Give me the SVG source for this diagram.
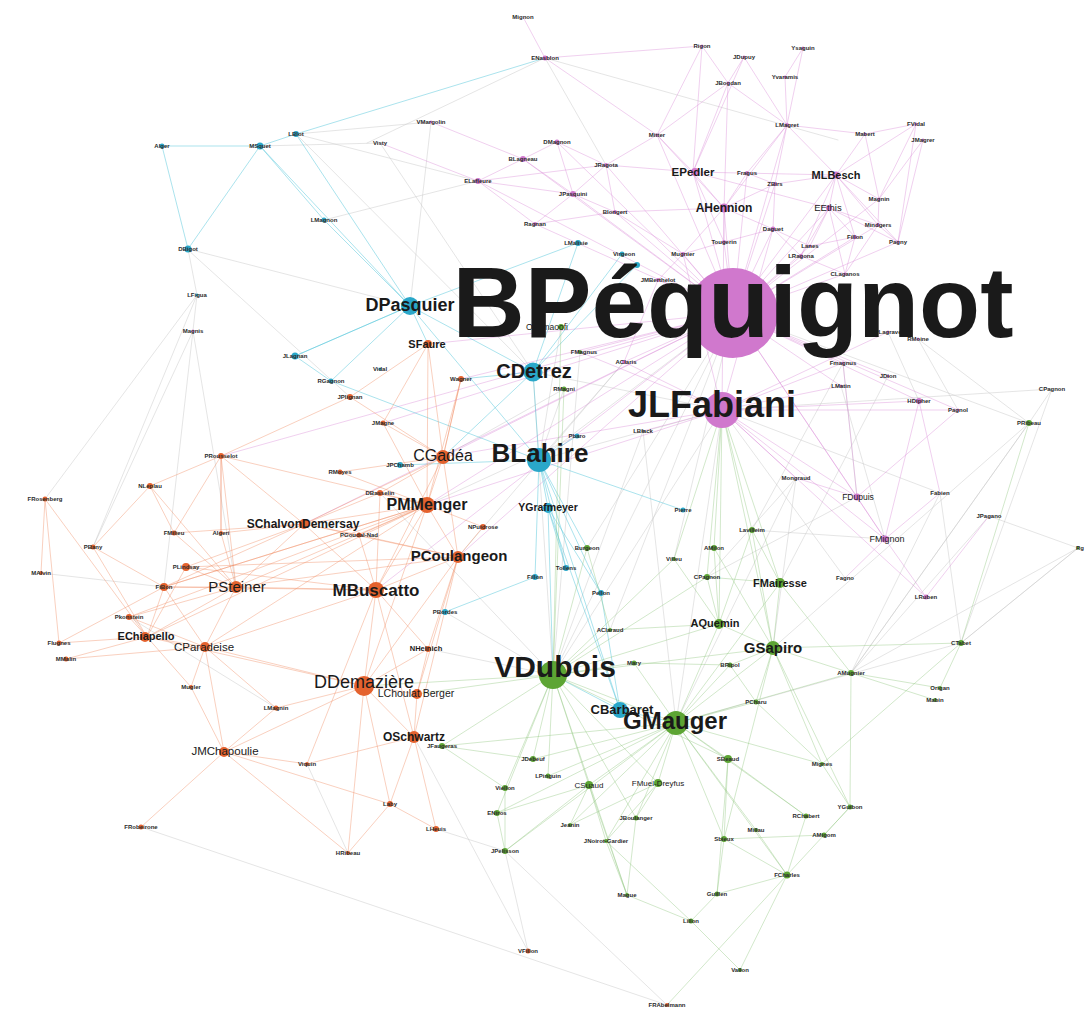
<svg xmlns="http://www.w3.org/2000/svg" width="1086" height="1009" viewBox="0 0 1086 1009">
<style>
text{font-family:"Liberation Sans",Arial,sans-serif;text-anchor:middle;fill:#1a1a1a}
.t{font-size:6px;font-weight:bold;fill:#2b2b2b}
.b{font-weight:bold}
.p{fill:#d078cd}.c{fill:#2aa7c9}.o{fill:#e4622e}.g{fill:#5da534}.n{fill:#8a8a8a}
.e{fill:none;stroke-width:0.8;stroke-linecap:round}
.ep{stroke:#d98ad6;stroke-opacity:.5}
.ec{stroke:#4fc3d9;stroke-opacity:.6}
.eo{stroke:#f08a5e;stroke-opacity:.5}
.eg{stroke:#8ec57c;stroke-opacity:.5}
.en{stroke:#c9c9c9;stroke-opacity:.6}
</style>
<rect width="1086" height="1009" fill="#fff"/>
<g id="connectors">
<path class="e en" d="M193 331L93 547M193 331L236 587M197 295L45 499M197 295L164 587M188 249L197 295M380 143L533 372M431 122L410 306M296 134L533 372M733 313L587 548M733 313L539 460M722 410L553 675M722 410L676 723M722 410L1052 389M1078 548L961 643M1078 548L851 673M1029 423L1052 389M940 493L961 643M989 516L851 673M796 478L773 648M428 649L553 675M918 339L1029 423M733 313L553 675M545 58L838 140M367 143L545 58M545 58L606 165M187 249L350 397M533 372L722 410M539 460L722 410M989 516L1078 548M1029 423L773 648M796 478L707 577M940 493L851 673M843 363L752 530M888 376L780 583M624 362L539 460M643 431L553 675M141 827L667 1005M528 951L414 737M528 951L505 851M445 612L553 675M380 493L553 675
M296 134L431 122M260 146L380 143M324 220L478 181M188 249L410 306M296 134L478 181M722 410L845 578M722 410L940 493M733 313L1029 423M1029 423L851 673M918 339L958 410M888 332L919 401M1052 389L961 643M843 363L857 497M841 386L885 539M961 643L1078 548M851 673L1029 423M676 723L961 643M796 478L676 723M752 530L885 539M707 577L857 497M533 372L553 675M564 389L539 460M561 327L539 460M580 352L553 675M643 431L676 723M733 313L674 559M733 313L610 630M197 295L93 547M41 573L164 587M129 617L276 708M307 764L348 853M505 851L667 1005M436 829L505 851M564 389L443 457M624 362L458 557M577 436L427 505"/>
<path class="e ep" d="M733 313L724 208M733 313L693 172M733 313L747 173M733 313L775 184M733 313L657 135M733 313L606 165M733 313L573 194M733 313L615 212M733 313L773 229M733 313L878 225M733 313L855 237M733 313L724 242M733 313L810 246M733 313L801 256M733 313L683 254M733 313L658 280M733 313L845 274M733 313L829 208M733 313L836 175M733 313L879 199M733 313L898 242M733 313L787 125M733 313L523 159M733 313L478 181M733 313L535 224M733 313L843 363M733 313L888 376M733 313L841 386M733 313L919 401M733 313L958 410M733 313L857 497M733 313L885 539M733 313L624 362M733 313L557 142M733 313L580 352M733 313L461 379M733 313L428 344M733 313L443 457M733 313L427 505M733 313L304 524M733 313L458 557M733 313L376 590M733 313L383 423M733 313L221 456
M722 410L857 497M722 410L885 539M722 410L843 363M722 410L841 386M722 410L919 401M722 410L958 410M722 410L926 597M722 410L796 478M722 410L724 208M722 410L773 229M722 410L683 254M722 410L643 431M722 410L888 332M722 410L443 457M722 410L427 505M722 410L580 352M722 410L624 362
M724 208L693 172M724 208L747 173M724 208L775 184M724 208L657 135M724 208L615 212M724 208L773 229M724 208L724 242M724 208L683 254M724 208L787 125M724 208L728 83
M693 172L657 135M693 172L606 165M693 172L728 83M693 172L702 46M693 172L744 57M693 172L829 208M693 172L836 175
M836 175L829 208M836 175L879 199M836 175L878 225M836 175L855 237M836 175L898 242M836 175L865 134M836 175L916 124M836 175L775 184M836 175L787 125
M829 208L878 225M829 208L855 237M829 208L898 242M829 208L810 246M829 208L801 256M829 208L845 274
M573 194L478 181M573 194L523 159M573 194L557 142M573 194L606 165M573 194L615 212M573 194L535 224
M380 143L478 181M478 181L535 224M478 181L523 159M431 122L523 159
M545 58L523 17M545 58L657 135M545 58L702 46M702 46L728 83M744 57L728 83M803 48L785 77M785 77L787 125M728 83L787 125M865 134L916 124M923 140L898 242M916 124L879 199M923 140L879 199M803 48L787 125
M857 497L885 539M885 539L926 597M857 497L796 478M885 539L845 578M857 497L958 410M885 539L919 401M857 497L843 363M926 597L989 516M919 401L940 493M885 539L940 493
M724 242L773 229M773 229L801 256M810 246L855 237M878 225L898 242M879 199L878 225M775 184L773 229M747 173L775 184M657 135L606 165M606 165L615 212M615 212L683 254M683 254L658 280M658 280L624 362M787 125L865 134M865 134L879 199M787 125L775 184M744 57L787 125M702 46L657 135M728 83L657 135M845 274L878 225M801 256L845 274M724 242L683 254M615 212L535 224M557 142L606 165M523 159L557 142M478 181L606 165M747 173L787 125M898 242L916 124M855 237L845 274M773 229L810 246M693 172L724 242M836 175L801 256"/>
<path class="e ec" d="M162 146L260 146M162 146L188 249M260 146L296 134M296 134L410 306M260 146L410 306M410 306L533 372M410 306L539 460M539 460L548 508M548 508L553 675M539 460L620 710M533 372L578 243M533 372L637 265M533 372L622 254M539 460L577 436M539 460L566 568M539 460L535 577M535 577L445 612M548 508L566 568M548 508L601 593M601 593L620 710M620 710L676 723M620 710L553 675M410 306L295 356M295 356L331 381M331 381L539 460M410 306L324 220M324 220L260 146M539 460L400 465M539 460L683 510M410 306L428 344M533 372L461 379M296 134L545 58M539 460L587 548M533 372L443 457M410 306L578 243M539 460L601 593M548 508L620 710M295 356L410 306M331 381L410 306"/>
<path class="e ec" stroke-width="1.6" d="M260 146L188 249M533 372L539 460"/>
<path class="e eo" d="M376 590L427 505M376 590L458 557M376 590L304 524M376 590L236 587M376 590L364 686M376 590L359 535M376 590L380 493M376 590L428 649M376 590L414 737M376 590L443 457M376 590L186 567M376 590L164 587M376 590L205 647M376 590L307 764
M427 505L443 457M427 505L458 557M427 505L304 524M427 505L236 587M427 505L380 493M427 505L359 535M427 505L483 527M427 505L383 423M427 505L428 344M427 505L364 686M427 505L205 647M427 505L147 637M427 505L221 456M427 505L164 587
M364 686L417 694M364 686L414 737M364 686L205 647M364 686L147 637M364 686L276 708M364 686L428 649M364 686L390 804M364 686L348 853M364 686L224 752M364 686L458 557
M236 587L186 567M236 587L164 587M236 587L174 533M236 587L221 533M236 587L304 524M236 587L147 637M236 587L205 647M236 587L221 456M236 587L150 486M236 587L458 557
M205 647L147 637M205 647L129 617M205 647L191 687M205 647L224 752M205 647L276 708M205 647L164 587
M147 637L129 617M147 637L59 643M147 637L66 659M147 637L164 587M147 637L93 547
M224 752L141 827M224 752L191 687M224 752L307 764M224 752L390 804
M304 524L221 456M304 524L174 533M304 524L221 533M304 524L359 535M304 524L443 457M304 524L458 557M304 524L164 587
M221 456L150 486M221 456L221 533M221 456L350 397M150 486L93 547M150 486L174 533M45 499L41 573M45 499L59 643M45 499L147 637
M428 344L443 457M428 344L383 423M428 344L350 397M443 457L458 557M443 457L461 379M443 457L340 472M443 457L380 493
M414 737L390 804M414 737L436 829M414 737L417 694M390 804L348 853M390 804L436 829M428 649L417 694M186 567L458 557M164 587L427 505
M186 567L304 524M174 533L221 456M221 533L221 456M380 493L304 524M350 397L443 457M461 379L427 505M461 379L443 457M359 535L458 557M428 649L458 557M483 527L458 557M276 708L224 752M307 764L414 737M129 617L236 587M66 659L205 647M59 643L164 587M93 547L164 587M186 567L147 637M340 472L427 505M383 423L443 457M191 687L147 637M129 617L427 505M224 752L348 853M417 694L458 557M414 737L458 557"/>
<path class="e eg" d="M553 675L676 723M553 675L773 648M553 675L719 624M553 675L610 630M553 675L634 663M553 675L587 548M553 675L589 785M553 675L658 783M553 675L533 759M553 675L548 776M553 675L505 788M553 675L442 746M553 675L728 759M553 675L674 559M553 675L707 577M553 675L636 818M553 675L497 813M553 675L561 327M553 675L564 389M553 675L364 686M553 675L417 694
M676 723L773 648M676 723L719 624M676 723L728 759M676 723L658 783M676 723L589 785M676 723L756 702M676 723L730 665M676 723L806 816M676 723L724 839M676 723L756 830M676 723L636 818M676 723L606 841M676 723L787 875M676 723L851 673M676 723L634 663M676 723L780 583M676 723L822 764
M773 648L780 583M773 648L719 624M773 648L730 665M773 648L756 702M773 648L851 673M773 648L961 643M773 648L752 530M773 648L714 548M773 648L822 764M773 648L724 839
M722 410L752 530M722 410L714 548M722 410L780 583M722 410L773 648M722 410L674 559M722 410L707 577M722 410L719 624
M961 643L1029 423M961 643L940 688M961 643L822 764M851 673L940 688M851 673L935 700M851 673L850 807
M787 875L806 816M787 875L850 807M787 875L717 894M787 875L667 1005M787 875L724 839M717 894L691 921M691 921L740 970M627 895L606 841M627 895L691 921M724 839L717 894M740 970L787 875
M505 851L497 813M505 851L505 788M505 851L589 785M589 785L570 825M589 785L606 841M589 785L497 813M658 783L636 818M658 783L606 841M658 783L570 825M442 746L533 759M442 746L505 788
M676 723L442 746M676 723L570 825M676 723L497 813M676 723L505 851M553 675L627 895M676 723L533 759M676 723L548 776M719 624L752 530M719 624L714 548M780 583L752 530M719 624L707 577M610 630L719 624M634 663L730 665M756 702L822 764M728 759L806 816M728 759L724 839M822 764L850 807M756 830L787 875M724 839L824 835M824 835L850 807M636 818L627 895M606 841L691 921M589 785L627 895M728 759L717 894M780 583L851 673M773 648L850 807M730 665L756 702M587 548L610 630M674 559L719 624M707 577L780 583"/>
</g>
<g id="n-mignon"><text class="t" x="523" y="19">Mignon</text></g>
<g id="n-blon"><circle class="p" cx="545" cy="58" r="2.5"/><text class="t" x="545" y="60">ENasblon</text></g>
<g id="n-rigon"><circle class="p" cx="702" cy="46" r="1.5"/><text class="t" x="702" y="48">Rigon</text></g>
<g id="n-jdupuy"><circle class="p" cx="744" cy="57" r="1.5"/><text class="t" x="744" y="59">JDupuy</text></g>
<g id="n-ysaguin"><circle class="p" cx="803" cy="48" r="1.5"/><text class="t" x="803" y="50">Ysaguin</text></g>
<g id="n-jbogdan"><circle class="p" cx="728" cy="83" r="1.5"/><text class="t" x="728" y="85">JBogdan</text></g>
<g id="n-yvaramis"><circle class="p" cx="785" cy="77" r="1.5"/><text class="t" x="785" y="79">Yvaramis</text></g>
<g id="n-lmagret"><circle class="p" cx="787" cy="125" r="2"/><text class="t" x="787" y="127">LMagret</text></g>
<g id="n-mabert"><circle class="p" cx="865" cy="134" r="1.5"/><text class="t" x="865" y="136">Mabert</text></g>
<g id="n-fvidal"><circle class="p" cx="916" cy="124" r="1.5"/><text class="t" x="916" y="126">FVidal</text></g>
<g id="n-jmagrer"><circle class="p" cx="923" cy="140" r="1.5"/><text class="t" x="923" y="142">JMagrer</text></g>
<g id="n-dmagnon"><circle class="p" cx="557" cy="142" r="2.5"/><text class="t" x="557" y="144">DMagnon</text></g>
<g id="n-mitter"><circle class="p" cx="657" cy="135" r="1.5"/><text class="t" x="657" y="137">Mitter</text></g>
<g id="n-jragota"><circle class="p" cx="606" cy="165" r="2"/><text class="t" x="606" y="167">JRagota</text></g>
<g id="n-fragus"><circle class="p" cx="747" cy="173" r="2"/><text class="t" x="747" y="175">Fragus</text></g>
<g id="n-zbirs"><circle class="p" cx="775" cy="184" r="2"/><text class="t" x="775" y="186">ZBirs</text></g>
<g id="n-jpasquini"><circle class="p" cx="573" cy="194" r="3"/><text class="t" x="573" y="196">JPasquini</text></g>
<g id="n-blongert"><circle class="p" cx="615" cy="212" r="2"/><text class="t" x="615" y="214">Blongert</text></g>
<g id="n-magnin"><circle class="p" cx="879" cy="199" r="1.5"/><text class="t" x="879" y="201">Magnin</text></g>
<g id="n-daguet"><circle class="p" cx="773" cy="229" r="2.5"/><text class="t" x="773" y="231">Daguet</text></g>
<g id="n-mindgers"><circle class="p" cx="878" cy="225" r="2"/><text class="t" x="878" y="227">Mindgers</text></g>
<g id="n-fillon"><circle class="p" cx="855" cy="237" r="2"/><text class="t" x="855" y="239">Fillon</text></g>
<g id="n-pagny"><circle class="p" cx="898" cy="242" r="1.5"/><text class="t" x="898" y="244">Pagny</text></g>
<g id="n-tougerin"><circle class="p" cx="724" cy="242" r="2"/><text class="t" x="724" y="244">Tougerin</text></g>
<g id="n-lanes"><circle class="p" cx="810" cy="246" r="1.5"/><text class="t" x="810" y="248">Lanes</text></g>
<g id="n-lragona"><circle class="p" cx="801" cy="256" r="2"/><text class="t" x="801" y="258">LRagona</text></g>
<g id="n-mugnier"><circle class="p" cx="683" cy="254" r="2"/><text class="t" x="683" y="256">Mugnier</text></g>
<g id="n-jmberthelot"><circle class="p" cx="658" cy="280" r="2"/><text class="t" x="658" y="282">JMBerthelot</text></g>
<g id="n-claganos"><circle class="p" cx="845" cy="274" r="1.5"/><text class="t" x="845" y="276">CLaganos</text></g>
<g id="n-blagneau"><circle class="p" cx="523" cy="159" r="3"/><text class="t" x="523" y="161">BLagneau</text></g>
<g id="n-elafleure"><circle class="p" cx="478" cy="181" r="3"/><text class="t" x="478" y="183">ELafleure</text></g>
<g id="n-visty"><text class="t" x="380" y="145">Visty</text></g>
<g id="n-vmargolin"><circle class="p" cx="431" cy="122" r="1.5"/><text class="t" x="431" y="124">VMargolin</text></g>
<g id="n-ragnan"><circle class="p" cx="535" cy="224" r="2"/><text class="t" x="535" y="226">Ragnan</text></g>
<g id="n-fmagnus2"><circle class="p" cx="843" cy="363" r="1.5"/><text class="t" x="843" y="365">Fmagnus</text></g>
<g id="n-jdion"><circle class="p" cx="888" cy="376" r="1.5"/><text class="t" x="888" y="378">JDion</text></g>
<g id="n-lmatin"><circle class="p" cx="841" cy="386" r="1.5"/><text class="t" x="841" y="388">LMatin</text></g>
<g id="n-hdipher"><circle class="p" cx="919" cy="401" r="3"/><text class="t" x="919" y="403">HDipher</text></g>
<g id="n-pagnol"><circle class="p" cx="958" cy="410" r="1.5"/><text class="t" x="958" y="412">Pagnol</text></g>
<g id="n-plagrave"><circle class="p" cx="888" cy="332" r="1.5"/><text class="t" x="888" y="334">PLagrave</text></g>
<g id="n-rmoine"><circle class="p" cx="918" cy="339" r="1.5"/><text class="t" x="918" y="341">RMoine</text></g>
<g id="n-fdupuis"><circle class="p" cx="857" cy="497" r="3.5"/><text x="858" y="500" font-size="8.5">FDupuis</text></g>
<g id="n-fmignon"><circle class="p" cx="885" cy="539" r="3.5"/><text x="887" y="542" font-size="9">FMignon</text></g>
<g id="n-lruben"><circle class="p" cx="926" cy="597" r="2.5"/><text class="t" x="926" y="599">LRuben</text></g>
<g id="n-fabien"><text class="t" x="940" y="495">Fabien</text></g>
<g id="n-jpagano"><text class="t" x="989" y="518">JPagano</text></g>
<g id="n-mongraud"><text class="t" x="796" y="480">Mongraud</text></g>
<g id="n-aclaris"><circle class="p" cx="624" cy="362" r="2"/><text class="t" x="626" y="364">AClaris</text></g>
<g id="n-lblack"><circle class="n" cx="643" cy="431" r="1.5"/><text class="t" x="643" y="433">LBlack</text></g>
<g id="n-fagno"><text class="t" x="845" y="580">Fagno</text></g>
<g id="n-cpagnon"><text class="t" x="1052" y="391">CPagnon</text></g>
<g id="n-rg"><circle class="g" cx="1078" cy="548" r="1.5"/><text class="t" x="1080" y="550">Rg</text></g>
<g id="n-alger"><circle class="c" cx="162" cy="146" r="2.5"/><text class="t" x="162" y="148">Alger</text></g>
<g id="n-msquet"><circle class="c" cx="260" cy="146" r="3.5"/><text class="t" x="260" y="148">MSquet</text></g>
<g id="n-lblot"><circle class="c" cx="296" cy="134" r="3"/><text class="t" x="296" y="136">LBlot</text></g>
<g id="n-lmagnon"><circle class="c" cx="324" cy="220" r="2.5"/><text class="t" x="324" y="222">LMagnon</text></g>
<g id="n-dbigot"><circle class="c" cx="188" cy="249" r="3.5"/><text class="t" x="188" y="251">DBigot</text></g>
<g id="n-lfigua"><circle class="c" cx="197" cy="295" r="1.5"/><text class="t" x="197" y="297">LFigua</text></g>
<g id="n-magnis"><circle class="p" cx="193" cy="331" r="1.5"/><text class="t" x="193" y="333">Magnis</text></g>
<g id="n-jlagnan"><circle class="c" cx="295" cy="356" r="3.5"/><text class="t" x="295" y="358">JLagnan</text></g>
<g id="n-rgagnon"><circle class="c" cx="331" cy="381" r="2.5"/><text class="t" x="331" y="383">RGagnon</text></g>
<g id="n-vidal"><circle class="c" cx="380" cy="369" r="1.5"/><text class="t" x="380" y="371">Vidal</text></g>
<g id="n-jpchamb"><circle class="c" cx="400" cy="465" r="3"/><text class="t" x="400" y="467">JPChamb</text></g>
<g id="n-pbordes"><circle class="c" cx="445" cy="612" r="3"/><text class="t" x="445" y="614">PBordes</text></g>
<g id="n-fillon-t"><circle class="c" cx="535" cy="577" r="3"/><text class="t" x="535" y="579">Fillon</text></g>
<g id="n-tollens"><circle class="c" cx="566" cy="568" r="3"/><text class="t" x="566" y="570">Tollens</text></g>
<g id="n-pellon"><circle class="c" cx="601" cy="593" r="3"/><text class="t" x="601" y="595">Pellon</text></g>
<g id="n-lmalisie"><circle class="c" cx="578" cy="243" r="3"/><text class="t" x="576" y="245">LMalisie</text></g>
<g id="n-virgeon"><circle class="c" cx="622" cy="254" r="2.5"/><text class="t" x="624" y="256">Virgeon</text></g>
<g id="n-tnode"><circle class="c" cx="637" cy="265" r="3"/></g>
<g id="n-pbaro"><circle class="c" cx="577" cy="436" r="2.5"/><text class="t" x="577" y="438">Pbaro</text></g>
<g id="n-pierre"><circle class="c" cx="683" cy="510" r="2.5"/><text class="t" x="683" y="512">Pierre</text></g>
<g id="n-wagner"><circle class="o" cx="461" cy="379" r="3"/><text class="t" x="461" y="381">Wagner</text></g>
<g id="n-jplignan"><circle class="o" cx="350" cy="397" r="3"/><text class="t" x="350" y="399">JPlignan</text></g>
<g id="n-jmagne"><circle class="o" cx="383" cy="423" r="2.5"/><text class="t" x="383" y="425">JMagne</text></g>
<g id="n-dbasselin"><circle class="o" cx="380" cy="493" r="3"/><text class="t" x="380" y="495">DBasselin</text></g>
<g id="n-rmoyes"><circle class="o" cx="340" cy="472" r="2.5"/><text class="t" x="340" y="474">RMoyes</text></g>
<g id="n-prousselot"><circle class="o" cx="221" cy="456" r="3"/><text class="t" x="221" y="458">PRousselot</text></g>
<g id="n-nleplau"><circle class="o" cx="150" cy="486" r="3"/><text class="t" x="150" y="488">NLeplau</text></g>
<g id="n-frosenberg"><circle class="o" cx="45" cy="499" r="2.5"/><text class="t" x="45" y="501">FRosenberg</text></g>
<g id="n-pgoudal"><circle class="o" cx="359" cy="535" r="2.5"/><text class="t" x="359" y="537">PGoudal-Nad</text></g>
<g id="n-npuidrose"><circle class="o" cx="483" cy="527" r="3"/><text class="t" x="483" y="529">NPuidrose</text></g>
<g id="n-plindsay"><circle class="o" cx="186" cy="567" r="4"/><text class="t" x="186" y="569">PLindsay</text></g>
<g id="n-fibon"><circle class="o" cx="164" cy="587" r="4"/><text class="t" x="164" y="589">FiBon</text></g>
<g id="n-fmilieu"><circle class="o" cx="174" cy="533" r="2.5"/><text class="t" x="174" y="535">FMilieu</text></g>
<g id="n-algeri"><circle class="o" cx="221" cy="533" r="2"/><text class="t" x="221" y="535">Algeri</text></g>
<g id="n-pbany"><circle class="o" cx="93" cy="547" r="2.5"/><text class="t" x="93" y="549">PBany</text></g>
<g id="n-malvin"><circle class="o" cx="41" cy="573" r="2"/><text class="t" x="41" y="575">MAlvin</text></g>
<g id="n-pkonstein"><circle class="o" cx="129" cy="617" r="3"/><text class="t" x="129" y="619">Pkonstein</text></g>
<g id="n-flugnes"><circle class="o" cx="59" cy="643" r="2.5"/><text class="t" x="59" y="645">Flugnes</text></g>
<g id="n-mmalin"><circle class="o" cx="66" cy="659" r="2.5"/><text class="t" x="66" y="661">MMalin</text></g>
<g id="n-mugler"><circle class="o" cx="191" cy="687" r="2"/><text class="t" x="191" y="689">Mugler</text></g>
<g id="n-lmagnin"><circle class="o" cx="276" cy="708" r="2.5"/><text class="t" x="276" y="710">LMagnin</text></g>
<g id="n-viquin"><circle class="o" cx="307" cy="764" r="2"/><text class="t" x="307" y="766">Viquin</text></g>
<g id="n-laby"><circle class="o" cx="390" cy="804" r="3"/><text class="t" x="390" y="806">Laby</text></g>
<g id="n-lheuis"><circle class="o" cx="436" cy="829" r="3"/><text class="t" x="436" y="831">LHeuis</text></g>
<g id="n-hribeau"><circle class="o" cx="348" cy="853" r="2"/><text class="t" x="348" y="855">HRibeau</text></g>
<g id="n-frobeirone"><circle class="o" cx="141" cy="827" r="2.5"/><text class="t" x="141" y="829">FRobeirone</text></g>
<g id="n-nheinich"><circle class="o" cx="428" cy="649" r="3"/><text x="426" y="651" font-size="7.5" class="b">NHeinich</text></g>
<g id="n-sfaure"><circle class="o" cx="428" cy="344" r="4"/><text x="427" y="348" font-size="11" class="b">SFaure</text></g>
<g id="n-obsmaoofi"><circle class="g" cx="561" cy="327" r="3"/><text x="547" y="330" font-size="8.5">OBsmaoofi</text></g>
<g id="n-rmagni"><circle class="g" cx="564" cy="389" r="2.5"/><text class="t" x="564" y="391">RMagni</text></g>
<g id="n-fmagnus"><circle class="g" cx="580" cy="352" r="2"/><text class="t" x="584" y="354">FMagnus</text></g>
<g id="n-burgeon"><circle class="g" cx="587" cy="548" r="3"/><text class="t" x="587" y="550">Burgeon</text></g>
<g id="n-lavilleim"><circle class="g" cx="752" cy="530" r="3"/><text class="t" x="752" y="532">Lavilleim</text></g>
<g id="n-amilon"><circle class="g" cx="714" cy="548" r="3"/><text class="t" x="714" y="550">AMilon</text></g>
<g id="n-villeu"><circle class="g" cx="674" cy="559" r="2"/><text class="t" x="674" y="561">Villeu</text></g>
<g id="n-cpagnon2"><circle class="g" cx="707" cy="577" r="3"/><text class="t" x="707" y="579">CPagnon</text></g>
<g id="n-pribeau"><circle class="g" cx="1029" cy="423" r="3"/><text class="t" x="1029" y="425">PRibeau</text></g>
<g id="n-ctabet"><circle class="g" cx="961" cy="643" r="3"/><text class="t" x="961" y="645">CTabet</text></g>
<g id="n-aclaraud"><circle class="g" cx="610" cy="630" r="2"/><text class="t" x="610" y="632">AClaraud</text></g>
<g id="n-mary"><circle class="g" cx="634" cy="663" r="2.5"/><text class="t" x="634" y="665">Mary</text></g>
<g id="n-bripol"><circle class="g" cx="730" cy="665" r="2.5"/><text class="t" x="730" y="667">BRipol</text></g>
<g id="n-amugnier"><circle class="g" cx="851" cy="673" r="3"/><text class="t" x="851" y="675">AMugnier</text></g>
<g id="n-origan"><circle class="g" cx="940" cy="688" r="2"/><text class="t" x="940" y="690">Origan</text></g>
<g id="n-mabin"><circle class="g" cx="935" cy="700" r="2"/><text class="t" x="935" y="702">Mabin</text></g>
<g id="n-pcharu"><circle class="g" cx="756" cy="702" r="2.5"/><text class="t" x="756" y="704">PCharu</text></g>
<g id="n-sbeaud"><circle class="g" cx="728" cy="759" r="4"/><text class="t" x="728" y="761">SBeaud</text></g>
<g id="n-mignes"><circle class="g" cx="822" cy="764" r="2"/><text class="t" x="822" y="766">Mignes</text></g>
<g id="n-csuaud"><circle class="g" cx="589" cy="785" r="4"/><text x="589" y="788" font-size="8">CSuaud</text></g>
<g id="n-fmueldreyfus"><circle class="g" cx="658" cy="783" r="4"/><text x="658" y="786" font-size="8">FMuel-Dreyfus</text></g>
<g id="n-yguibon"><circle class="g" cx="850" cy="807" r="2.5"/><text class="t" x="850" y="809">YGuibon</text></g>
<g id="n-rchabert"><circle class="g" cx="806" cy="816" r="2.5"/><text class="t" x="806" y="818">RChabert</text></g>
<g id="n-jboulanger"><circle class="g" cx="636" cy="818" r="2.5"/><text class="t" x="636" y="820">JBoulanger</text></g>
<g id="n-jeanin"><circle class="g" cx="570" cy="825" r="2"/><text class="t" x="570" y="827">Jeanin</text></g>
<g id="n-jnoirot"><circle class="g" cx="606" cy="841" r="2"/><text class="t" x="606" y="843">JNoirot-Gardier</text></g>
<g id="n-sbieux"><circle class="g" cx="724" cy="839" r="3"/><text class="t" x="724" y="841">Sbieux</text></g>
<g id="n-millau"><circle class="g" cx="756" cy="830" r="2"/><text class="t" x="756" y="832">Millau</text></g>
<g id="n-amigom"><circle class="g" cx="824" cy="835" r="2.5"/><text class="t" x="824" y="837">AMigom</text></g>
<g id="n-fcharles"><circle class="g" cx="787" cy="875" r="3.5"/><text class="t" x="787" y="877">FCharles</text></g>
<g id="n-mague"><circle class="g" cx="627" cy="895" r="2"/><text class="t" x="627" y="897">Mague</text></g>
<g id="n-guillen"><circle class="g" cx="717" cy="894" r="2.5"/><text class="t" x="717" y="896">Guillen</text></g>
<g id="n-lillon"><circle class="g" cx="691" cy="921" r="2.5"/><text class="t" x="691" y="923">Lillon</text></g>
<g id="n-vallon"><circle class="g" cx="740" cy="970" r="2"/><text class="t" x="740" y="972">Vallon</text></g>
<g id="n-frabelmann"><circle class="o" cx="667" cy="1005" r="2"/><text class="t" x="667" y="1007">FRAbelmann</text></g>
<g id="n-jfaugeras"><circle class="g" cx="442" cy="746" r="3"/><text class="t" x="442" y="748">JFaugeras</text></g>
<g id="n-jdebeuf"><circle class="g" cx="533" cy="759" r="3"/><text class="t" x="533" y="761">JDebeuf</text></g>
<g id="n-lpinguin"><circle class="g" cx="548" cy="776" r="2.5"/><text class="t" x="548" y="778">LPinguin</text></g>
<g id="n-viellon"><circle class="g" cx="505" cy="788" r="3"/><text class="t" x="505" y="790">Viellon</text></g>
<g id="n-eniros"><circle class="g" cx="497" cy="813" r="3"/><text class="t" x="497" y="815">ENiros</text></g>
<g id="n-jpelisson"><circle class="g" cx="505" cy="851" r="3"/><text class="t" x="505" y="853">JPelisson</text></g>
<g id="n-vfillon"><circle class="o" cx="528" cy="951" r="2.5"/><text class="t" x="528" y="953">VFillon</text></g>
<g id="n-ahennion"><circle class="p" cx="724" cy="208" r="4.5"/><text x="724" y="212" font-size="12" class="b">AHennion</text></g>
<g id="n-epedler"><circle class="p" cx="695" cy="172" r="4"/><text x="693" y="176" font-size="11.5" class="b">EPedler</text></g>
<g id="n-mlbesch"><circle class="p" cx="836" cy="175" r="3.5"/><text x="836" y="179" font-size="11" class="b">MLBesch</text></g>
<g id="n-eethis"><circle class="p" cx="829" cy="208" r="3"/><text x="828" y="211" font-size="9.5">EEthis</text></g>
<g id="n-schalvon"><circle class="o" cx="304" cy="524" r="5"/><text x="303" y="528" font-size="12" class="b" fill="#333">SChalvonDemersay</text></g>
<g id="n-psteiner"><circle class="o" cx="236" cy="587" r="6"/><text x="237" y="592" font-size="15">PSteiner</text></g>
<g id="n-echiapello"><circle class="o" cx="145" cy="637" r="5"/><text x="146" y="640" font-size="11" class="b">EChiapello</text></g>
<g id="n-cparadeise"><circle class="o" cx="205" cy="647" r="5"/><text x="204" y="651" font-size="11.5">CParadeise</text></g>
<g id="n-jmchapoulie"><circle class="o" cx="224" cy="752" r="5"/><text x="225" y="755" font-size="11.5">JMChapoulie</text></g>
<g id="n-berger"><circle class="o" cx="417" cy="694" r="5"/><text x="416" y="697" font-size="10.5">LChoulat Berger</text></g>
<g id="n-oschwartz"><circle class="o" cx="414" cy="737" r="6"/><text x="414" y="741" font-size="12" class="b">OSchwartz</text></g>
<g id="n-ddemaziere"><circle class="o" cx="364" cy="686" r="10"/><text x="364" y="688" font-size="18">DDemazière</text></g>
<g id="n-mbuscatto"><circle class="o" cx="376" cy="590" r="8"/><text x="376" y="596" font-size="17" class="b">MBuscatto</text></g>
<g id="n-pcoulangeon"><circle class="o" cx="458" cy="557" r="6"/><text x="459" y="561" font-size="15" class="b">PCoulangeon</text></g>
<g id="n-pmmenger"><circle class="o" cx="427" cy="505" r="8"/><text x="427" y="510" font-size="16" class="b">PMMenger</text></g>
<g id="n-cgadea"><circle class="o" cx="443" cy="457" r="7"/><text x="443" y="461" font-size="16" fill="#333">CGadéa</text></g>
<g id="n-ygrafmeyer"><circle class="c" cx="548" cy="508" r="5"/><text x="548" y="511" font-size="10.5" class="b" fill="#333">YGrafmeyer</text></g>
<g id="n-fmairesse"><circle class="g" cx="780" cy="583" r="5"/><text x="780" y="587" font-size="11" class="b">FMairesse</text></g>
<g id="n-aquemin"><circle class="g" cx="719" cy="624" r="5"/><text x="715" y="627" font-size="11" class="b">AQuemin</text></g>
<g id="n-gsapiro"><circle class="g" cx="773" cy="648" r="7"/><text x="773" y="653" font-size="15" class="b">GSapiro</text></g>
<g id="n-vdubois"><circle class="g" cx="553" cy="675" r="14"/><text x="555" y="677" font-size="30" class="b">VDubois</text></g>
<g id="n-cbarbaret"><circle class="c" cx="620" cy="710" r="8"/><text x="622" y="714" font-size="13" class="b">CBarbaret</text></g>
<g id="n-gmauger"><circle class="g" cx="676" cy="723" r="12"/><text x="675" y="729" font-size="24" class="b">GMauger</text></g>
<g id="n-blahire"><circle class="c" cx="539" cy="460" r="12"/><text x="540" y="462" font-size="26" class="b">BLahire</text></g>
<g id="n-cdetrez"><circle class="c" cx="533" cy="372" r="9.5"/><text x="534" y="378" font-size="20" class="b">CDetrez</text></g>
<g id="n-dpasquier"><circle class="c" cx="410" cy="306" r="9"/><text x="410" y="311" font-size="18" class="b">DPasquier</text></g>
<g id="n-jlfabiani"><circle class="p" cx="722" cy="410" r="18"/><text x="712" y="417" font-size="36" class="b">JLFabiani</text></g>
<g id="n-bpequignot"><circle class="p" cx="733" cy="313" r="45"/><text x="733" y="337" font-size="100" class="b" fill="#000">BPéquignot</text></g>
</svg>
